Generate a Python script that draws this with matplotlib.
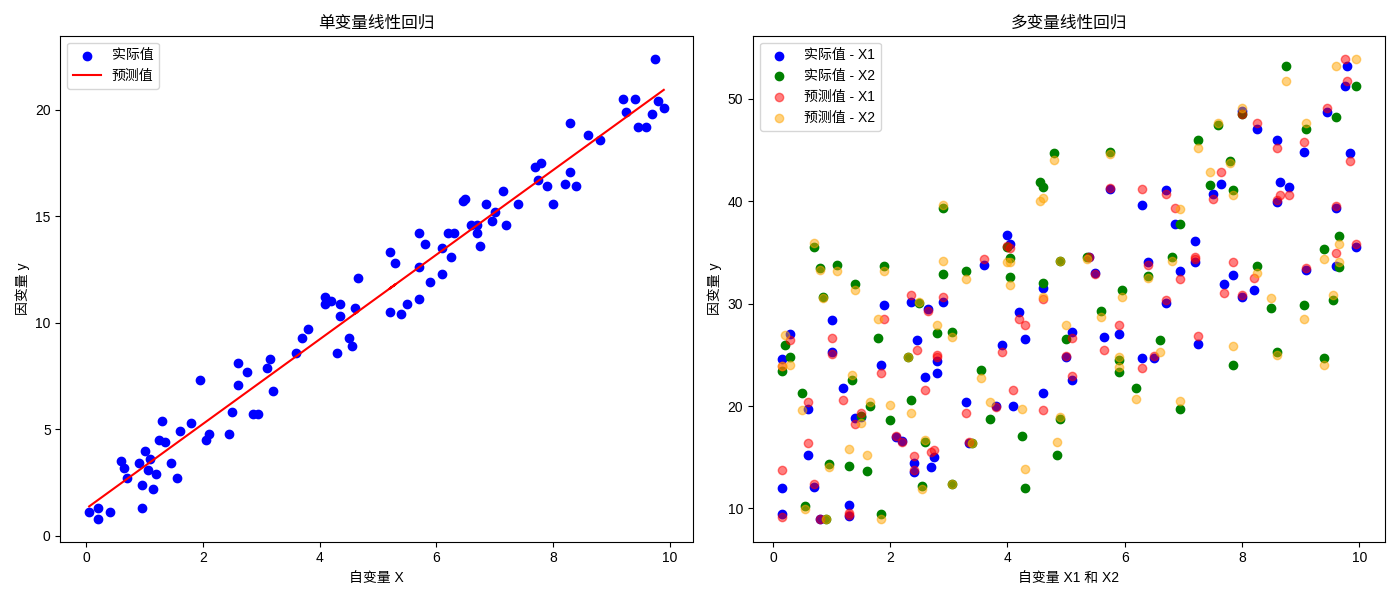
import numpy as np
import matplotlib.pyplot as plt

plt.rcParams['font.family'] = ['Liberation Sans', 'Noto Sans CJK SC', 'DejaVu Sans']
plt.rcParams['axes.unicode_minus'] = False

# left: single variable
x_single = [0.05, 0.2, 0.2, 0.4, 0.6, 0.65, 0.7, 0.9, 0.95, 0.95, 1.0, 1.05, 1.1, 1.15, 1.2, 1.25, 1.3,
            1.35, 1.45, 1.55, 1.6, 1.8, 1.95, 2.05, 2.1, 2.45, 2.5, 2.6, 2.6, 2.75, 2.85, 2.95, 3.1, 3.15,
            3.2, 3.6, 3.7, 3.8, 4.1, 4.1, 4.2, 4.3, 4.35, 4.35, 4.5, 4.55, 4.65, 4.6, 5.2, 5.3, 5.2, 5.4,
            5.5, 5.7, 5.7, 5.7, 5.8, 5.9, 6.1, 6.1, 6.2, 6.25, 6.3, 6.45, 6.5, 6.6, 6.7, 6.7, 6.75, 6.85,
            6.95, 7.0, 7.15, 7.2, 7.4, 7.7, 7.75, 7.8, 7.9, 8.0, 8.2, 8.3, 8.3, 8.4, 8.6, 8.8, 9.2, 9.25,
            9.4, 9.45, 9.6, 9.7, 9.75, 9.8, 9.9]
y_single = [1.1, 0.8, 1.3, 1.1, 3.5, 3.2, 2.7, 3.4, 1.3, 2.4, 4.0, 3.1, 3.6, 2.2, 2.9, 4.5, 5.4,
            4.4, 3.4, 2.7, 4.9, 5.3, 7.3, 4.5, 4.8, 4.8, 5.8, 8.1, 7.1, 7.7, 5.7, 5.7, 7.9, 8.3,
            6.8, 8.6, 9.3, 9.7, 11.2, 10.9, 11.0, 8.6, 10.3, 10.9, 9.3, 8.9, 12.1, 10.7, 13.3, 12.8, 10.5, 10.4,
            10.9, 11.1, 12.6, 14.2, 13.7, 11.9, 13.5, 12.3, 14.2, 13.1, 14.2, 15.7, 15.8, 14.6, 14.2, 14.6, 13.6, 15.6,
            14.8, 15.2, 16.2, 14.6, 15.6, 17.3, 16.7, 17.5, 16.4, 15.6, 16.5, 17.1, 19.4, 16.4, 18.8, 18.6, 20.5, 19.9,
            20.5, 19.2, 19.2, 19.8, 22.4, 20.4, 20.1]

# right: multi variable
x1 = [0.15, 0.15, 0.15, 0.3, 0.6, 0.7, 1.0, 1.0, 1.2, 1.3, 1.4, 1.5, 1.9, 1.85, 2.1, 2.2, 2.35, 2.4, 2.4,
      2.45, 2.6, 2.65, 2.7, 2.75, 2.8, 2.8, 2.9, 3.3, 3.35, 3.6, 3.8, 3.9, 4.0, 4.05, 4.1, 4.2, 4.3, 4.6,
      4.6, 5.0, 5.1, 5.1, 5.4, 5.5, 5.65, 5.75, 5.9, 6.3, 6.3, 6.4, 6.5, 6.7, 6.7, 6.85, 6.95, 7.2, 7.2,
      7.25, 7.5, 7.65, 7.7, 7.85, 8.0, 8.0, 8.2, 8.25, 8.6, 8.6, 8.65, 8.8, 9.05, 9.1, 9.45, 9.6, 9.6,
      9.75, 9.85, 9.95, 9.8, 0.6, 1.3, 0.8]
y1 = [24.6, 12.0, 9.5, 27.0, 19.7, 12.1, 25.3, 28.4, 21.8, 10.3, 18.8, 18.9, 29.9, 24.0, 17.0, 16.6, 30.2, 13.6, 14.4,
      26.4, 22.8, 29.5, 14.0, 15.0, 24.4, 23.2, 30.2, 20.4, 16.4, 33.8, 20.0, 26.0, 36.7, 35.8, 20.0, 29.2, 26.5, 31.5,
      21.3, 24.8, 22.5, 27.2, 34.5, 33.0, 26.7, 41.2, 27.0, 24.7, 39.6, 34.1, 24.7, 41.1, 30.1, 37.8, 33.2, 36.1, 34.1,
      26.1, 40.7, 41.7, 31.9, 32.8, 30.6, 48.8, 31.3, 47.0, 39.9, 46.0, 41.9, 41.4, 44.8, 33.3, 48.7, 33.7, 39.3,
      51.2, 44.7, 35.5, 53.2, 15.2, 9.3, 9.0]
yhat1 = [23.9, 13.8, 9.2, 26.4, 20.4, 12.4, 25.1, 26.6, 20.6, 9.6, 18.2, 19.3, 28.5, 23.2, 17.1, 16.5, 30.8, 15.1, 13.8,
         25.5, 21.6, 29.3, 15.5, 15.7, 25.0, 24.8, 30.6, 19.3, 16.5, 34.3, 19.9, 25.3, 35.6, 35.4, 21.6, 28.5, 27.9, 30.4,
         19.6, 24.9, 22.9, 26.6, 34.5, 32.9, 25.5, 41.3, 27.9, 23.7, 41.2, 33.8, 24.9, 40.7, 30.3, 39.3, 32.4, 34.3, 34.5,
         26.8, 40.2, 42.8, 31.0, 34.1, 30.8, 48.5, 32.5, 47.6, 40.1, 45.2, 40.6, 40.6, 45.8, 33.5, 49.1, 34.9, 39.5,
         53.9, 43.9, 35.8, 51.7, 16.4, 9.4, 9.0]
x2 = [0.15, 0.2, 0.8, 0.7, 0.9, 1.3, 1.35, 1.4, 1.6, 1.9, 1.85, 2.35, 2.5, 2.55, 2.8, 2.9, 2.9, 3.05, 3.05,
      3.3, 3.55, 3.7, 4.05, 4.05, 4.25, 4.3, 4.55, 4.6, 4.6, 4.8, 4.85, 4.9, 4.9, 5.35, 5.6, 5.75, 5.9, 5.95,
      6.2, 6.4, 6.6, 6.8, 6.95, 7.25, 7.45, 7.6, 7.8, 7.85, 7.85, 8.25, 8.5, 8.6, 8.75, 9.05, 9.1, 9.4, 9.4,
      9.55, 9.65, 9.65, 9.95, 0.5, 0.3, 0.95, 1.1, 1.65, 2.3, 2.0, 2.6, 0.55, 1.5, 3.4, 5.0, 5.9, 6.95, 8.0,
      9.6, 0.85, 1.8, 4.0]
y2 = [23.4, 26.0, 33.5, 35.5, 9.0, 14.1, 22.5, 31.9, 13.7, 33.7, 9.5, 20.6, 30.1, 12.2, 27.1, 32.9, 39.3, 12.4, 27.2,
      33.2, 23.5, 18.7, 32.6, 34.4, 17.1, 12.0, 41.9, 41.4, 32.0, 44.7, 15.2, 34.2, 18.7, 34.5, 29.3, 44.8, 23.3, 31.3,
      21.8, 32.7, 26.4, 34.5, 19.7, 46.0, 41.6, 47.4, 43.9, 41.1, 24.0, 33.7, 29.6, 25.3, 53.2, 29.9, 47.0, 24.7, 35.3,
      30.3, 33.6, 36.6, 51.2, 21.3, 24.8, 14.3, 33.8, 20.0, 24.8, 18.6, 16.5, 10.2, 19.0, 16.4, 26.5, 24.5, 37.8, 48.5,
      48.2, 30.6, 26.6, 35.5]
yhat2 = [23.9, 26.9, 33.3, 35.9, 9.0, 15.8, 23.0, 31.3, 15.2, 33.2, 9.0, 19.3, 30.2, 11.9, 27.9, 34.2, 39.6, 12.4, 26.7,
         32.4, 22.7, 20.4, 31.8, 34.1, 19.7, 13.9, 40.0, 40.3, 30.6, 44.0, 16.5, 34.2, 18.9, 34.3, 28.7, 44.6, 24.8, 30.6,
         20.7, 32.5, 25.3, 34.2, 20.5, 45.2, 42.8, 47.6, 43.7, 40.6, 25.9, 33.0, 30.5, 25.0, 51.7, 28.5, 47.6, 24.0, 34.3,
         30.8, 35.8, 34.1, 53.9, 19.6, 24.0, 14.0, 33.2, 20.4, 24.8, 20.1, 16.7, 9.9, 18.3, 16.4, 27.9, 23.8, 39.2, 49.1,
         53.2, 30.5, 28.5, 34.1]

fig, (ax1, ax2) = plt.subplots(1, 2, figsize=(14, 6), dpi=100)

coef = np.polyfit(x_single, y_single, 1)
ax1.scatter(x_single, y_single, color='blue', label='实际值')
ax1.plot(x_single, np.polyval(coef, x_single), color='red', label='预测值')
ax1.set_title('单变量线性回归')
ax1.set_xlabel('自变量 X')
ax1.set_ylabel('因变量 y')
ax1.legend(loc='upper left')

ax2.scatter(x1, y1, color='blue', label='实际值 - X1')
ax2.scatter(x2, y2, color='green', label='实际值 - X2')
ax2.scatter(x1, yhat1, color='red', alpha=0.5, label='预测值 - X1')
ax2.scatter(x2, yhat2, color='orange', alpha=0.5, label='预测值 - X2')
ax2.set_title('多变量线性回归')
ax2.set_xlabel('自变量 X1 和 X2')
ax2.set_ylabel('因变量 y')
ax2.legend(loc='upper left')

plt.tight_layout()
plt.savefig('out.png')
